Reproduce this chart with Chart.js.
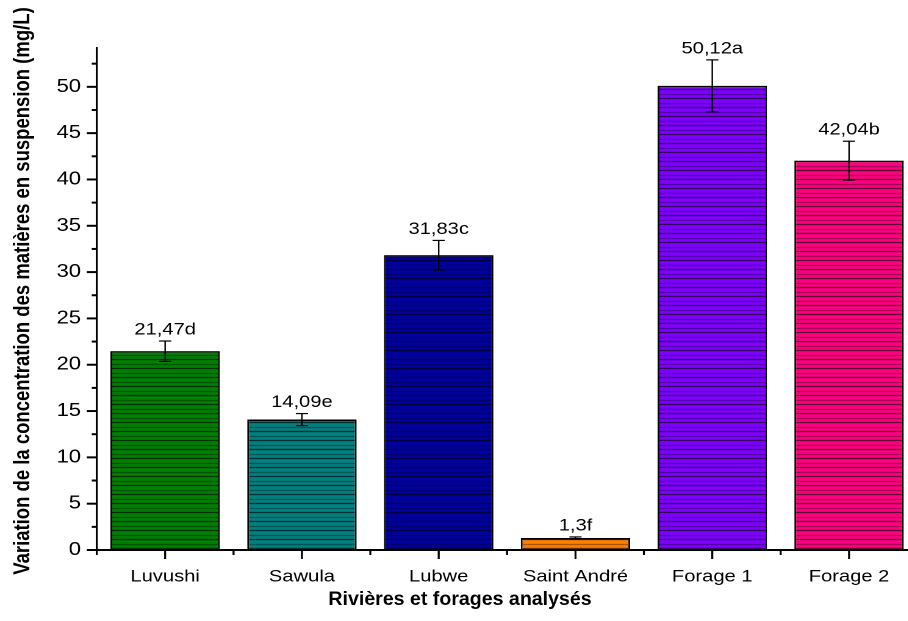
<!DOCTYPE html>
<html>
<head>
<meta charset="utf-8">
<script src="https://cdn.jsdelivr.net/npm/chart.js@4.4.1/dist/chart.umd.min.js"></script>
<style>
  html, body { margin: 0; padding: 0; overflow: hidden; background: #fff; width: 908px; height: 621px; }
  #wrap { position: absolute; left: 0; top: 0; width: 770px; height: 621px;
          transform: scaleX(1.22); transform-origin: 0 0; }
</style>
</head>
<body>
<div id="wrap"><canvas id="c"></canvas></div>
<script>
// Suspended solids by sampling site
const categories = ['Luvushi', 'Sawula', 'Lubwe', 'Saint André', 'Forage 1', 'Forage 2'];
const means      = [21.47, 14.09, 31.83, 1.3, 50.12, 42.04];
const errors     = [1.1, 0.65, 1.6, 0.12, 2.8, 2.1];
const letters    = ['d', 'e', 'c', 'f', 'a', 'b'];
const barColors  = ['#008000', '#008080', '#0000a0', '#ff8000', '#8000ff', '#ff0080'];
const yTickValues = [0, 5, 10, 15, 20, 25, 30, 35, 40, 45, 50];
const xTitle = 'Rivières et forages analysés';
const yTitle = 'Variation de la concentration des matières en suspension (mg/L)';

const STRETCH = 1.22;          // horizontal stretch applied to the wrapper
const FONT = '"Liberation Sans", Arial, Helvetica, sans-serif';

// horizontal-line hatch used as bar fill
function stripes(color) {
  const c = document.createElement('canvas');
  c.width = 8; c.height = 9;
  const g = c.getContext('2d');
  g.fillStyle = color; g.fillRect(0, 0, 8, 9);
  g.fillStyle = 'rgba(0,0,0,0.45)'; g.fillRect(0, 4, 8, 1);
  g.fillStyle = 'rgba(0,0,0,0.85)'; g.fillRect(0, 8, 8, 1);
  return g.createPattern(c, 'repeat');
}

const label = (v, i) => String(v).replace('.', ',') + letters[i];

const decor = {
  id: 'decor',
  afterDatasetsDraw(chart) {
    const { ctx, scales: { y } } = chart;
    const meta = chart.getDatasetMeta(0);
    ctx.save();
    meta.data.forEach((bar, i) => {
      const cx = bar.x;
      const top = y.getPixelForValue(means[i] + errors[i]);
      const bot = y.getPixelForValue(means[i] - errors[i]);
      const cap = 5;
      ctx.fillStyle = '#000';
      ctx.fillRect(cx - 0.6, top, 1.2, bot - top);
      ctx.fillRect(cx - cap, top - 0.5, cap * 2, 1.2);
      ctx.fillRect(cx - cap, bot - 0.5, cap * 2, 1.2);
      ctx.font = '16.5px ' + FONT;
      ctx.textAlign = 'center';
      ctx.textBaseline = 'alphabetic';
      ctx.fillText(label(means[i], i), cx, top - 6.5);
    });
    ctx.restore();
  },
  afterDraw(chart) {
    const { ctx, chartArea: { left: L, right: R, top: T, bottom: B }, scales: { x, y } } = chart;
    const vw = 2 / STRETCH; // width of vertical strokes before stretching
    ctx.save();
    ctx.fillStyle = '#000';
    // axis lines
    ctx.fillRect(L - vw / 2, T, vw, B - T + 1);
    ctx.fillRect(L - vw / 2, B - 1, R - L + vw, 2);
    // y ticks: major every 5, minor in between
    for (let v = 0; v <= 52.5; v += 2.5) {
      const py = y.getPixelForValue(v);
      const len = (v % 5 === 0 ? 10 : 5) / STRETCH;
      ctx.fillRect(L - len, py - 1, len, 2);
    }
    // x ticks: major at categories, minor at category boundaries
    const n = categories.length;
    for (let i = 0; i < n; i++) {
      const px = x.getPixelForValue(i);
      ctx.fillRect(px - vw / 2, B, vw, 9);
    }
    const step = x.getPixelForValue(1) - x.getPixelForValue(0);
    for (let i = 0; i <= n; i++) {
      const px = x.getPixelForValue(0) - step / 2 + i * step;
      ctx.fillRect(px - vw / 2, B, vw, 5);
    }
    // axis titles
    ctx.textAlign = 'center';
    ctx.textBaseline = 'middle';
    ctx.save();
    ctx.translate(460 / STRETCH, 600);
    ctx.scale(1.03 / STRETCH, 1);   // x title is set narrower than the stretched body text
    ctx.font = 'bold 19px ' + FONT;
    ctx.fillText(xTitle, 0, 0);
    ctx.restore();
    ctx.translate(18.9, 291);
    ctx.rotate(-Math.PI / 2);
    ctx.font = 'bold 18.5px ' + FONT;
    ctx.fillText(yTitle, 0, 0);
    ctx.restore();
  }
};

new Chart(document.getElementById('c'), {
  type: 'bar',
  data: {
    labels: categories,
    datasets: [{
      data: means,
      backgroundColor: barColors.map(stripes),
      borderColor: '#000',
      borderWidth: 1.5,
      categoryPercentage: 0.8,
      barPercentage: 1.0
    }]
  },
  options: {
    responsive: true,
    maintainAspectRatio: false,
    animation: false,
    devicePixelRatio: 2,
    layout: { padding: { left: 0, right: 18, top: 47, bottom: 0 } },
    plugins: { legend: { display: false }, tooltip: { enabled: false } },
    scales: {
      x: {
        grid: { display: false, drawTicks: false },
        border: { display: false },
        ticks: { color: '#000', font: { family: FONT, size: 16.5 }, padding: 17, maxRotation: 0, autoSkip: false },
        afterFit(s) { s.height = 71; }
      },
      y: {
        min: 0, max: 54.3,
        grid: { display: false, drawTicks: false },
        border: { display: false },
        afterBuildTicks(s) { s.ticks = yTickValues.map(v => ({ value: v })); },
        ticks: { color: '#000', font: { family: FONT, size: 18 }, padding: 12.9 },
        afterFit(s) { s.width = 79.3; }
      }
    }
  },
  plugins: [decor]
});
</script>
</body>
</html>
